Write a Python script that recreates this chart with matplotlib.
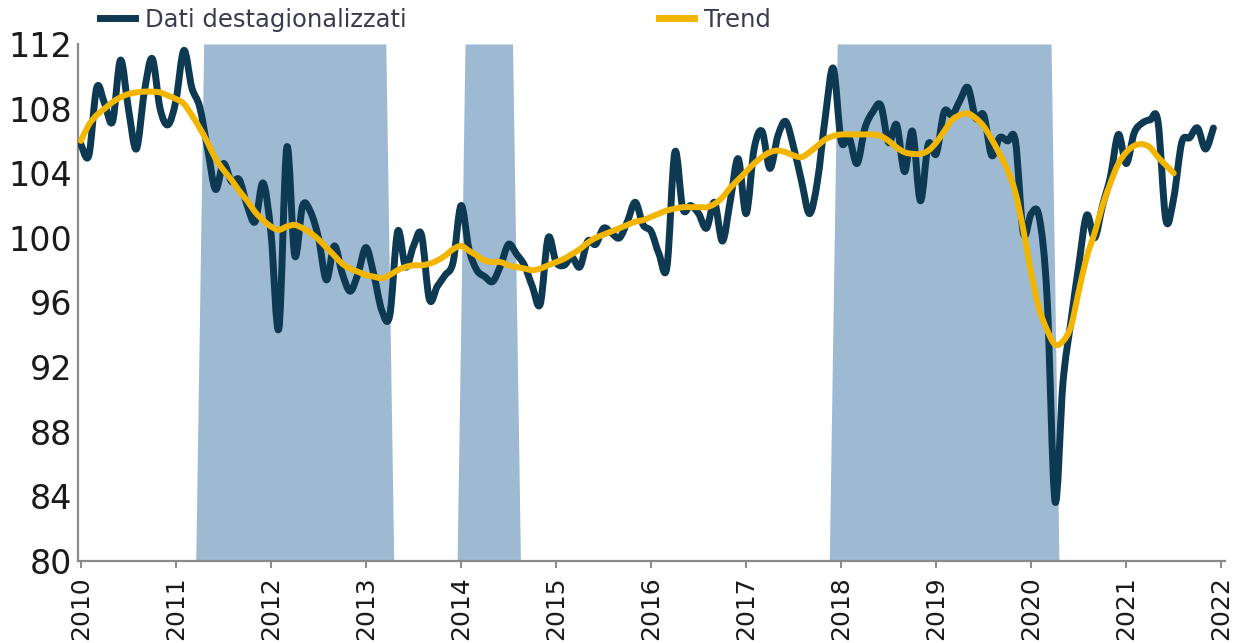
import matplotlib as mpl

mpl.use("Agg")

import matplotlib.pyplot as plt
import numpy as np
from matplotlib.lines import Line2D
from matplotlib.patches import PathPatch
from matplotlib.path import Path

NAVY = "#0d3a52"
GOLD = "#f2b600"
SHADE = "#9ebad2"
INK = "#1a1a1a"
LEG_INK = "#3b3b4f"
SPINE = "#8a8a8a"

START_YEAR = 2010

# dati destagionalizzati, mensili gen 2010 - dic 2021
dati = [
    105.8, 105.1, 109.3, 108.3, 107.2, 111.0, 108.0, 105.5, 109.0, 111.1, 108.0, 107.0,
    108.5, 111.6, 109.3, 108.1, 105.5, 103.0, 104.6, 103.5, 103.6, 102.0, 101.0, 103.4,
    100.3, 94.4, 105.6, 98.9, 102.0, 101.6, 100.0, 97.4, 99.5, 97.8, 96.7, 97.8,
    99.4, 97.7, 95.5, 95.2, 100.4, 98.2, 99.5, 100.2, 96.2, 97.0, 97.7, 98.5,
    102.0, 99.3, 98.0, 97.6, 97.3, 98.3, 99.6, 99.0, 98.3, 97.0, 95.9, 100.0,
    98.5, 98.3, 98.8, 98.2, 99.8, 99.6, 100.6, 100.3, 100.0, 101.0, 102.2, 100.8,
    100.4, 99.0, 98.2, 105.3, 101.8, 102.0, 101.5, 100.6, 102.2, 99.8, 102.3, 104.9,
    101.5, 105.5, 106.6, 104.3, 106.3, 107.2, 105.6, 103.5, 101.5, 103.5, 107.5, 110.5,
    106.0, 106.2, 104.6, 106.8, 107.8, 108.2, 105.9, 107.0, 104.1, 106.6, 102.3, 105.8,
    105.2, 107.8, 107.6, 108.5, 109.3, 107.4, 107.6, 105.1, 106.2, 106.0, 106.0, 100.3,
    101.5, 101.3, 96.3, 83.7, 91.0, 94.8, 98.3, 101.4, 100.0, 102.0, 103.8, 106.4,
    104.6, 106.5, 107.1, 107.3, 107.2, 101.1, 102.5, 105.9, 106.2, 106.8, 105.5, 106.8,
]

# trend, gen 2010 - lug 2021
trend = [
    106.0, 107.0, 107.6, 108.0, 108.4, 108.7, 108.9, 109.0, 109.05, 109.05, 109.0, 108.8,
    108.6, 108.3, 107.6, 106.8, 105.9, 104.9, 104.2, 103.6, 102.9, 102.3, 101.6, 101.1,
    100.7, 100.5, 100.7, 100.8, 100.6, 100.3, 99.9, 99.4, 98.9, 98.4, 98.1, 97.9,
    97.7, 97.6, 97.5, 97.7, 98.0, 98.2, 98.3, 98.3, 98.4, 98.6, 98.9, 99.3,
    99.5, 99.2, 98.9, 98.6, 98.5, 98.5, 98.3, 98.2, 98.1, 98.0, 98.1, 98.3,
    98.5, 98.7, 99.0, 99.3, 99.7, 100.0, 100.2, 100.4, 100.6, 100.8, 101.0, 101.1,
    101.3, 101.5, 101.7, 101.8, 101.9, 101.9, 101.9, 101.9, 102.1, 102.5, 103.1, 103.6,
    104.1, 104.6, 105.0, 105.3, 105.4, 105.3, 105.1, 105.0, 105.3, 105.7, 106.1, 106.3,
    106.4, 106.4, 106.4, 106.4, 106.4, 106.3, 106.0, 105.6, 105.3, 105.2, 105.2, 105.4,
    105.9, 106.6, 107.3, 107.6, 107.7, 107.4, 106.9, 106.1, 105.2, 104.2, 102.8, 100.5,
    97.8, 95.6, 94.3, 93.4, 93.6, 94.5, 96.7, 98.8, 100.3, 102.0, 103.4, 104.6,
    105.3, 105.7, 105.8, 105.6, 105.0, 104.5, 104.0,
]

# periodi evidenziati (anno, mese) inizio - fine
periodi = [((2011, 4), (2013, 3)), ((2014, 1), (2014, 7)), ((2017, 12), (2020, 3))]

y_ticks = [80, 84, 88, 92, 96, 100, 104, 108, 112]
x_ticks = list(range(2010, 2023))


def month_index(ym):
    return (ym[0] - START_YEAR) * 12 + ym[1] - 1


def smooth_path(x, y):
    # curva Catmull-Rom passante per i punti, resa come bezier cubiche
    p = np.column_stack([x, y])
    ext = np.vstack([p[0], p, p[-1]])
    verts = [p[0]]
    codes = [Path.MOVETO]
    for i in range(len(p) - 1):
        p0, p1, p2, p3 = ext[i], ext[i + 1], ext[i + 2], ext[i + 3]
        verts += [p1 + (p2 - p0) / 6, p2 - (p3 - p1) / 6, p2]
        codes += [Path.CURVE4] * 3
    return Path(verts, codes)


def add_line(ax, x, y, color, lw, z):
    ax.add_patch(PathPatch(smooth_path(x, y), facecolor="none", edgecolor=color,
                           lw=lw, capstyle="round", joinstyle="round", zorder=z))


def main():
    x_dati = START_YEAR + np.arange(len(dati)) / 12
    x_trend = START_YEAR + np.arange(len(trend)) / 12

    n = len(dati)
    on = np.zeros(n, dtype=bool)
    for a, b in periodi:
        on[month_index(a):month_index(b) + 1] = True
    x_shade = START_YEAR + (np.arange(n) + 0.5) / 12

    fig = plt.figure(figsize=(12.35, 6.43), dpi=100)
    ax = fig.add_axes([0.0632, 0.1275, 0.9288, 0.8041])

    ax.fill_between(x_shade, y_ticks[0], np.where(on, y_ticks[-1], y_ticks[0]),
                    color=SHADE, lw=0, zorder=1)
    add_line(ax, x_dati, dati, NAVY, 5, 3)
    add_line(ax, x_trend, trend, GOLD, 4.3, 4)

    ax.set_xlim(2009.97, 2022.04)
    ax.set_ylim(y_ticks[0], y_ticks[-1])
    ax.set_yticks(y_ticks)
    ax.set_xticks(x_ticks)
    ax.set_xticklabels([str(t) for t in x_ticks], rotation=90)

    for s in ("top", "right"):
        ax.spines[s].set_visible(False)
    for s in ("left", "bottom"):
        ax.spines[s].set_color(SPINE)
        ax.spines[s].set_linewidth(1.6)

    ax.tick_params(axis="y", length=0, pad=4, labelsize=24, labelcolor=INK)
    ax.tick_params(axis="x", length=5, width=1.4, color=SPINE, pad=6,
                   labelsize=18, labelcolor=INK)

    handles = [Line2D([], [], color=NAVY, lw=5), Line2D([], [], color=GOLD, lw=5)]
    fig.legend(handles, ["Dati destagionalizzati", "Trend"], ncol=2,
               loc="center left", bbox_to_anchor=(100 / 1235, 1 - 20 / 643),
               frameon=False, fontsize=17.5, labelcolor=LEG_INK,
               handlelength=1.45, handletextpad=0.42, columnspacing=10.35,
               borderpad=0, borderaxespad=0)

    fig.savefig("out.png", dpi=100, facecolor="white")


if __name__ == "__main__":
    main()
